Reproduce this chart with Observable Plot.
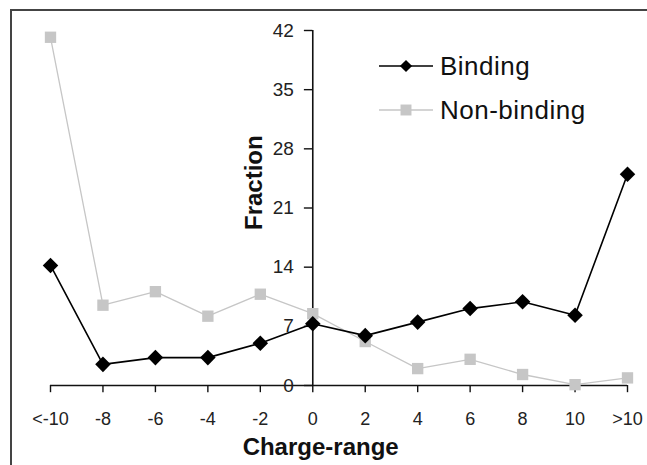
<!DOCTYPE html>
<html>
<head>
<meta charset="utf-8">
<script src="https://cdn.jsdelivr.net/npm/d3@7"></script>
<script src="https://cdn.jsdelivr.net/npm/@observablehq/plot@0.6"></script>
<style>
  html, body { margin: 0; padding: 0; background: #fff; overflow: hidden; }
  #wrap { position: relative; width: 647px; height: 465px; overflow: hidden; font-family: "Liberation Sans", Arial, sans-serif; }
  #border { position: absolute; left: 10px; top: 9px; width: 700px; height: 520px; border: 2px solid #444; box-sizing: border-box; }
  #chart { position: absolute; left: 0; top: 0; }
  #legend { position: absolute; left: 379px; top: 44px; }
  .row { display: flex; align-items: center; height: 44px; }
  .row span { font-size: 26px; color: #111; margin-left: 7px; letter-spacing: 0.5px; }
</style>
</head>
<body>
<div id="wrap">
  <div id="border"></div>
  <div id="chart"></div>
  <div id="legend"></div>
</div>
<script>
const categories = ["<-10", "-8", "-6", "-4", "-2", "0", "2", "4", "6", "8", "10", ">10"];
const binding    = [14.2, 2.5, 3.3, 3.3, 5.0, 7.3, 5.9, 7.5, 9.1, 9.9, 8.3, 25.0];
const nonBinding = [41.2, 9.5, 11.1, 8.2, 10.8, 8.5, 5.2, 2.0, 3.1, 1.3, 0.1, 0.9];
const yTicks = [0, 7, 14, 21, 28, 35, 42];
const xTitle = "Charge-range";
const yTitle = "Fraction";
const seriesNames = ["Binding", "Non-binding"];

const idx = categories.map((c, i) => i);
const zeroIdx = categories.indexOf("0");
const rows = [];
categories.forEach((c, i) => {
  rows.push({i, cat: c, series: seriesNames[0], v: binding[i]});
  rows.push({i, cat: c, series: seriesNames[1], v: nonBinding[i]});
});
const bRows = rows.filter(d => d.series === seriesNames[0]);
const nRows = rows.filter(d => d.series === seriesNames[1]);

const font = "Liberation Sans, Arial, sans-serif";
const gray = "#c6c6c6";

const chart = Plot.plot({
  width: 647,
  height: 465,
  marginLeft: 50,
  marginRight: 20,
  marginTop: 30,
  marginBottom: 80,
  style: {fontFamily: font, background: "transparent", overflow: "visible"},
  x: {type: "linear", domain: [0, categories.length - 1], axis: null},
  y: {domain: [0, 42], axis: null},
  marks: [
    // x axis
    Plot.ruleY([0], {x1: 0, x2: categories.length - 1, stroke: "#111", strokeWidth: 1.6}),
    Plot.ruleX(idx, {x: d => d, y1: 0, y2: -0.85, stroke: "#111", strokeWidth: 1.4}),
    Plot.text(idx, {x: d => d, y: 0, text: d => categories[d], dy: 34, fontSize: 18, fill: "#222"}),
    // y axis at "0"
    Plot.ruleX([zeroIdx], {y1: 0, y2: 42, stroke: "#111", strokeWidth: 1.6}),
    Plot.ruleY(yTicks, {y: d => d, x1: zeroIdx, x2: zeroIdx - 0.16, stroke: "#111", strokeWidth: 1.4}),
    Plot.text(yTicks, {x: zeroIdx, y: d => d, text: d => String(d), dx: -19, textAnchor: "end", fontSize: 19, fill: "#222"}),
    // titles
    Plot.text([xTitle], {x: zeroIdx + 0.15, y: 0, text: d => d, dy: 62, fontSize: 24, fontWeight: "bold", fill: "#111"}),
    Plot.text([yTitle], {x: zeroIdx, y: 24, text: d => d, dx: -58, rotate: -90, fontSize: 24, fontWeight: "bold", fill: "#111"}),
    // series
    Plot.line(nRows, {x: "i", y: "v", stroke: gray, strokeWidth: 1.3}),
    Plot.dot(nRows, {x: "i", y: "v", symbol: "square", r: 6.4, fill: gray, stroke: "none"}),
    Plot.line(bRows, {x: "i", y: "v", stroke: "#000", strokeWidth: 1.6}),
    Plot.dot(bRows, {x: "i", y: "v", symbol: "diamond2", r: 7, fill: "#000", stroke: "none"})
  ]
});
document.getElementById("chart").appendChild(chart);

// legend
const legend = document.getElementById("legend");
const specs = [
  {name: seriesNames[0], color: "#000", width: 1.6, symbol: d3.symbolDiamond2 || d3.symbolDiamond, size: 95},
  {name: seriesNames[1], color: gray, width: 1.3, symbol: d3.symbolSquare, size: 120}
];
specs.forEach(s => {
  const row = document.createElement("div");
  row.className = "row";
  const svg = d3.create("svg").attr("width", 54).attr("height", 22);
  svg.append("line").attr("x1", 0).attr("x2", 54).attr("y1", 11).attr("y2", 11)
    .attr("stroke", s.color).attr("stroke-width", s.width);
  svg.append("path").attr("transform", "translate(27,11)")
    .attr("d", d3.symbol(s.symbol, s.size)()).attr("fill", s.color);
  row.appendChild(svg.node());
  const t = document.createElement("span");
  t.textContent = s.name;
  row.appendChild(t);
  legend.appendChild(row);
});
</script>
</body>
</html>
